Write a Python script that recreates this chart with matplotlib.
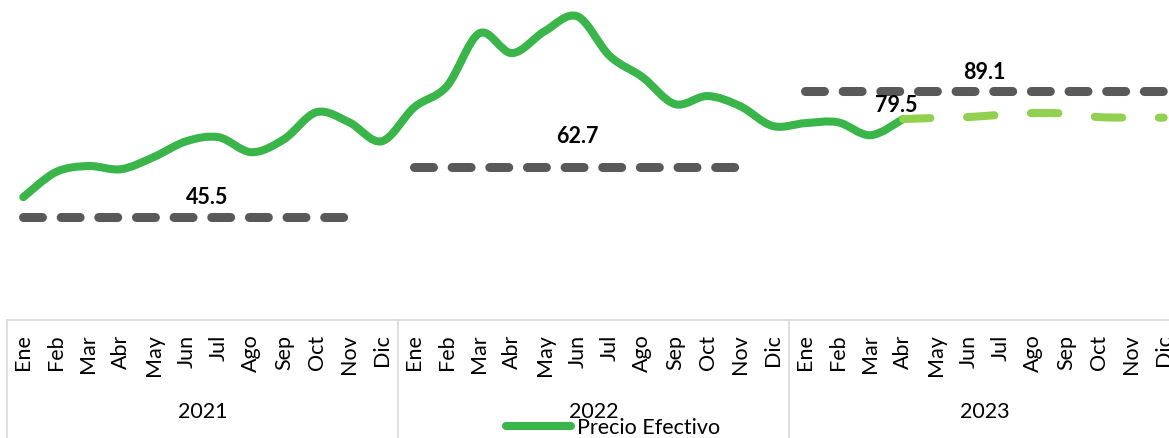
import numpy as np
import matplotlib
matplotlib.use("Agg")
import matplotlib.pyplot as plt
from matplotlib.path import Path
from matplotlib.patches import PathPatch
from matplotlib.lines import Line2D

plt.rcParams['font.family'] = ['Lato', 'DejaVu Sans']

meses = ['Ene', 'Feb', 'Mar', 'Abr', 'May', 'Jun', 'Jul', 'Ago', 'Sep', 'Oct', 'Nov', 'Dic']
anios = ['2021', '2022', '2023']

# precio efectivo mensual, Ene 2021 - Abr 2023
precio = [52.4, 61.1, 63.2, 62.1, 66.3, 71.8, 73.2, 68.0, 72.5, 81.9, 78.4, 71.8,
          83.6, 90.9, 109.3, 102.4, 110.0, 115.2, 101.4, 94.1, 84.7, 87.5, 84.0, 77.1,
          78.1, 78.4, 73.9, 79.5]
# proyeccion, Abr 2023 - Dic 2023
proyeccion = [79.5, 79.9, 80.2, 81.0, 81.6, 81.4, 80.2, 80.0, 80.0]

# promedios anuales (mes inicial / final de cada tramo)
promedios = [45.5, 62.7, 89.1]
prom_desde = [0, 12, 24]
prom_hasta = [10, 22, 35]

verde = '#39B54A'
verde_claro = '#92D050'
gris = '#595959'
gris_eje = '#D9D9D9'


def suave(xs, ys):
    # curva suavizada tipo Excel (bezier cubica)
    pts = np.column_stack([xs, ys]).astype(float)
    n = len(pts)
    verts = [pts[0]]
    codes = [Path.MOVETO]
    for i in range(n - 1):
        p0 = pts[max(i - 1, 0)]
        p1 = pts[i]
        p2 = pts[i + 1]
        p3 = pts[min(i + 2, n - 1)]
        verts += [p1 + (p2 - p0) / 6, p2 - (p3 - p1) / 6, p2]
        codes += [Path.CURVE4] * 3
    return Path(verts, codes)


fig = plt.figure(figsize=(11.69, 4.38), dpi=100)
ax = fig.add_axes([7 / 1169, 118 / 438, 1173 / 1169, 320 / 438])
ax.set_xlim(-0.5, 35.5)
ax.set_ylim(9.74, 120.85)

# promedios anuales
for v, a, b in zip(promedios, prom_desde, prom_hasta):
    ax.plot([a, b], [v, v], color=gris, lw=6.5, dashes=(2.1, 2.07),
            dash_capstyle='round', zorder=2)

# precio efectivo
x_precio = np.arange(len(precio))
ax.add_patch(PathPatch(suave(x_precio, precio), facecolor='none', edgecolor=verde,
                       lw=5.8, capstyle='round', joinstyle='round', zorder=3))

# proyeccion
x_proy = np.arange(len(precio) - 1, len(precio) - 1 + len(proyeccion))
ax.add_patch(PathPatch(suave(x_proy, proyeccion), facecolor='none', edgecolor=verde_claro,
                       lw=5.8, linestyle=(0, (3.4, 4.55)), capstyle='round', zorder=4))

# etiquetas
etiquetas = [(5.65, promedios[0], 13.7), (17.0, promedios[1], 22.3),
             (29.5, promedios[2], 13.7), (26.8, precio[-1], 10.0)]
for x, v, dy in etiquetas:
    ax.annotate(f'{v:.1f}', xy=(x, v), xytext=(0, dy), textcoords='offset points',
                ha='center', va='center', fontsize=15.5, fontweight='bold', color='black',
                zorder=5)

# eje de categorias
for s in ['left', 'right', 'top']:
    ax.spines[s].set_visible(False)
ax.spines['bottom'].set_color(gris_eje)
ax.spines['bottom'].set_linewidth(1.2)
ax.set_yticks([])
ax.set_xticks(range(36))
ax.set_xticklabels(meses * 3, rotation=90, fontsize=15.5)
ax.tick_params(axis='x', length=0, pad=10.5, colors='black')

tr = ax.get_xaxis_transform()
for xs in [-0.5, 11.5, 23.5, 35.5]:
    ax.plot([xs, xs], [0, -0.37], transform=tr, clip_on=False, color=gris_eje, lw=1.2)
for i, anio in enumerate(anios):
    ax.text(12 * i + 5.5, -0.2875, anio, transform=tr, ha='center', va='center',
            fontsize=15.5, color='black')

h = Line2D([], [], color=verde, lw=5.8, solid_capstyle='round')
fig.legend(handles=[h], labels=['Precio Efectivo'], loc='center',
           bbox_to_anchor=(613 / 1169, 10 / 438), frameon=False, fontsize=15.5,
           handlelength=3.0, handletextpad=0.3, borderpad=0, borderaxespad=0)

fig.savefig('out.png', dpi=100)
